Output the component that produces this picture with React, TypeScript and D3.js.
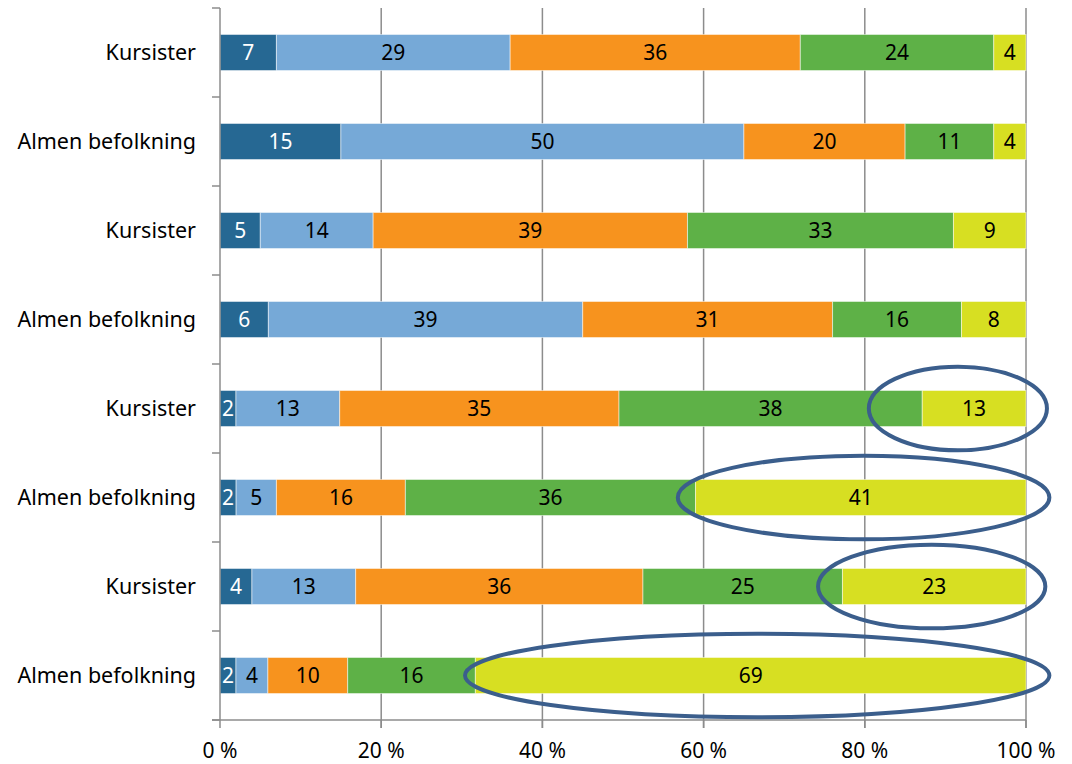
import * as d3 from 'd3';
import {useEffect, useRef} from 'react';

const rowLabels = [
    'Kursister',
    'Almen befolkning',
    'Kursister',
    'Almen befolkning',
    'Kursister',
    'Almen befolkning',
    'Kursister',
    'Almen befolkning',
];

// five answer groups, one value per row (top to bottom)
const s1 = [7, 15, 5, 6, 2, 2, 4, 2];
const s2 = [29, 50, 14, 39, 13, 5, 13, 4];
const s3 = [36, 20, 39, 31, 35, 16, 36, 10];
const s4 = [24, 11, 33, 16, 38, 36, 25, 16];
const s5 = [4, 4, 9, 8, 13, 41, 23, 69];

const colors = ['#266893', '#76a9d7', '#f7931e', '#5eb147', '#d7df22'];
const labelColors = ['#ffffff', '#000000', '#000000', '#000000', '#000000'];

const xTicks = [0, 20, 40, 60, 80, 100];

// highlight ellipses: row index, start %, end %
const ringRows = [4, 5, 6, 7];
const ringStart = [80.5, 56.8, 74.2, 30.4];
const ringEnd = [102.6, 102.9, 102.4, 102.9];

const font = '"Noto Sans", "Open Sans", sans-serif';

export default function App() {
    const ref = useRef<SVGSVGElement>(null);
    const width = 1072;
    const height = 764;
    const margin = {top: 8, right: 46, bottom: 44, left: 220};

    useEffect(() => {
        const svg = d3.select(ref.current);
        svg.selectAll('*').remove();

        const series = [s1, s2, s3, s4, s5];
        const rows = rowLabels.map((_, i) => {
            const vals = series.map((s) => s[i]);
            const total = d3.sum(vals);
            let acc = 0;
            return vals.map((v, k) => {
                const x0 = (acc / total) * 100;
                acc += v;
                return {row: i, k, v, x0, x1: (acc / total) * 100};
            });
        });

        const x = d3
            .scaleLinear()
            .domain([0, 100])
            .range([margin.left, width - margin.right]);
        const y = d3
            .scaleBand<number>()
            .domain(d3.range(rowLabels.length))
            .range([margin.top, height - margin.bottom]);
        const barH = y.bandwidth() * 0.405;
        const plotBottom = height - margin.bottom;

        // gridlines
        svg.append('g')
            .selectAll('line')
            .data(xTicks.slice(1))
            .join('line')
            .attr('x1', (d) => x(d))
            .attr('x2', (d) => x(d))
            .attr('y1', margin.top)
            .attr('y2', plotBottom + 8)
            .attr('stroke', '#8c8c8c')
            .attr('stroke-width', 1.5);

        // bars
        const seg = svg
            .append('g')
            .selectAll('g')
            .data(rows)
            .join('g')
            .selectAll('g')
            .data((d) => d)
            .join('g');

        seg.append('rect')
            .attr('x', (d) => x(d.x0))
            .attr('width', (d) => x(d.x1) - x(d.x0))
            .attr('y', (d) => y(d.row)! + (y.bandwidth() - barH) / 2)
            .attr('height', barH)
            .attr('fill', (d) => colors[d.k])
            .attr('stroke', '#ffffff')
            .attr('stroke-opacity', 0.5)
            .attr('stroke-width', 1);

        seg.append('text')
            .attr('x', (d) => (x(d.x0) + x(d.x1)) / 2)
            .attr('y', (d) => y(d.row)! + y.bandwidth() / 2)
            .attr('dy', '0.36em')
            .attr('text-anchor', 'middle')
            .attr('font-family', font)
            .attr('font-size', 21)
            .attr('fill', (d) => labelColors[d.k])
            .text((d) => d.v);

        // left axis
        const yAxis = svg.append('g');
        yAxis.append('line')
            .attr('x1', margin.left)
            .attr('x2', margin.left)
            .attr('y1', margin.top)
            .attr('y2', plotBottom)
            .attr('stroke', '#8c8c8c')
            .attr('stroke-width', 1.5);
        yAxis.selectAll('.tk')
            .data(d3.range(rowLabels.length + 1))
            .join('line')
            .attr('x1', margin.left - 8)
            .attr('x2', margin.left)
            .attr('y1', (i) => margin.top + i * y.step())
            .attr('y2', (i) => margin.top + i * y.step())
            .attr('stroke', '#8c8c8c')
            .attr('stroke-width', 1.5);
        yAxis.selectAll('text')
            .data(rowLabels)
            .join('text')
            .attr('x', margin.left - 24)
            .attr('y', (_, i) => y(i)! + y.bandwidth() / 2)
            .attr('dy', '0.36em')
            .attr('text-anchor', 'end')
            .attr('font-family', font)
            .attr('font-size', 21.5)
            .attr('fill', '#000')
            .text((d) => d);

        // bottom axis
        const xAxis = svg.append('g');
        xAxis.append('line')
            .attr('x1', margin.left - 8)
            .attr('x2', x(100))
            .attr('y1', plotBottom)
            .attr('y2', plotBottom)
            .attr('stroke', '#8c8c8c')
            .attr('stroke-width', 1.5);
        xAxis.selectAll('.tk')
            .data(xTicks)
            .join('line')
            .attr('x1', (d) => x(d))
            .attr('x2', (d) => x(d))
            .attr('y1', plotBottom)
            .attr('y2', plotBottom + 8)
            .attr('stroke', '#8c8c8c')
            .attr('stroke-width', 1.5);
        xAxis.selectAll('text')
            .data(xTicks)
            .join('text')
            .attr('x', (d) => x(d))
            .attr('y', plotBottom + 38)
            .attr('text-anchor', 'middle')
            .attr('font-family', font)
            .attr('font-size', 21)
            .attr('fill', '#000')
            .text((d) => `${d} %`);

        // highlight rings
        svg.append('g')
            .selectAll('ellipse')
            .data(ringRows)
            .join('ellipse')
            .attr('cx', (r, i) => (x(ringStart[i]) + x(ringEnd[i])) / 2)
            .attr('rx', (r, i) => (x(ringEnd[i]) - x(ringStart[i])) / 2)
            .attr('cy', (r) => y(r)! + y.bandwidth() / 2)
            .attr('ry', y.bandwidth() * 0.47)
            .attr('fill', 'none')
            .attr('stroke', '#3b5e8c')
            .attr('stroke-width', 4);
    }, []);

    return (
        <div style={{position: 'absolute', left: 0, top: 0}}>
            <svg ref={ref} width={width} height={height} style={{display: 'block', background: '#fff'}} />
        </div>
    );
}
